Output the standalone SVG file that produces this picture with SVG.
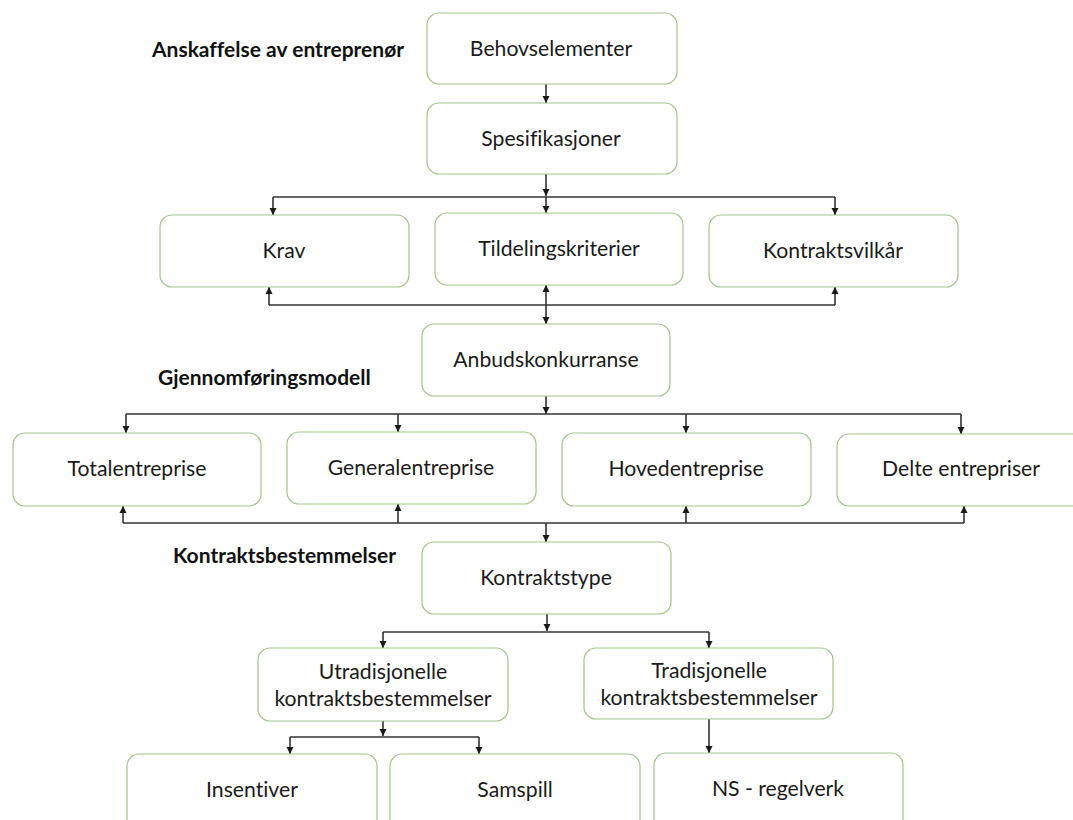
<svg xmlns="http://www.w3.org/2000/svg" width="1073" height="820" viewBox="0 0 1073 820">
  <defs>
    <marker id="arr" viewBox="0 0 10 10" refX="10" refY="5" markerWidth="7" markerHeight="8" markerUnits="userSpaceOnUse" orient="auto">
      <path d="M0,0 L10,5 L0,10 z" fill="#1a1a1a"/>
    </marker>
    <style>
      .box { fill: #ffffff; stroke: #a4c48a; stroke-width: 1.2; }
      .lbl { font-family: Lato, "Liberation Sans", sans-serif; font-size: 21.2px; fill: #1a1a1a; text-anchor: middle; font-variant-ligatures: none; }
      .hdr { font-family: Lato, "Liberation Sans", sans-serif; font-size: 21px; font-weight: bold; fill: #111111; font-variant-ligatures: none; }
      .con { fill: none; stroke: #333333; stroke-width: 1.6; }
      .arw { fill: none; stroke: #333333; stroke-width: 1.6; marker-end: url(#arr); }
    </style>
  </defs>
  <rect width="1073" height="820" fill="#ffffff"/>

  <!-- section headings -->
  <g id="headings">
    <text class="hdr" x="152" y="57">Anskaffelse av entreprenør</text>
    <text class="hdr" x="158" y="385">Gjennomføringsmodell</text>
    <text class="hdr" x="173" y="563">Kontraktsbestemmelser</text>
  </g>

  <!-- connectors -->
  <g id="connectors">
    <path class="arw" d="M546,84 V103"/>
    <path class="arw" d="M546,174 V196"/>
    <path class="con" d="M273,197 H835"/>
    <path class="arw" d="M273,197 V215"/>
    <path class="arw" d="M546,197 V213"/>
    <path class="arw" d="M835,197 V215"/>

    <path class="con" d="M269,305 H835"/>
    <path class="arw" d="M269,305 V287"/>
    <path class="arw" d="M546,305 V285"/>
    <path class="arw" d="M835,305 V287"/>
    <path class="arw" d="M546,305 V324"/>

    <path class="arw" d="M546,396 V414"/>
    <path class="con" d="M126,414 H961"/>
    <path class="arw" d="M126,414 V433"/>
    <path class="arw" d="M398,414 V432"/>
    <path class="arw" d="M686,414 V433"/>
    <path class="arw" d="M961,414 V434"/>

    <path class="con" d="M123,523 H964"/>
    <path class="arw" d="M123,523 V506"/>
    <path class="arw" d="M398,523 V504"/>
    <path class="arw" d="M686,523 V506"/>
    <path class="arw" d="M964,523 V506"/>
    <path class="arw" d="M546,523 V542"/>

    <path class="arw" d="M547,614 V631"/>
    <path class="con" d="M383,632 H709"/>
    <path class="arw" d="M383,632 V648"/>
    <path class="arw" d="M709,632 V648"/>

    <path class="arw" d="M383,721 V736"/>
    <path class="con" d="M290,737 H479"/>
    <path class="arw" d="M290,737 V754"/>
    <path class="arw" d="M479,737 V754"/>

    <path class="arw" d="M709,719 V753"/>
  </g>

  <!-- nodes -->
  <g id="n-behov">
    <rect class="box" x="427" y="13" width="250" height="71" rx="12"/>
    <text class="lbl" x="551" y="56">Behovselementer</text>
  </g>
  <g id="n-spes">
    <rect class="box" x="427" y="103" width="250" height="71" rx="12"/>
    <text class="lbl" x="551" y="146">Spesifikasjoner</text>
  </g>
  <g id="n-krav">
    <rect class="box" x="160" y="215" width="249" height="72" rx="12"/>
    <text class="lbl" x="284" y="258">Krav</text>
  </g>
  <g id="n-tildeling">
    <rect class="box" x="435" y="213" width="248" height="72" rx="12"/>
    <text class="lbl" x="559" y="256">Tildelingskriterier</text>
  </g>
  <g id="n-vilkar">
    <rect class="box" x="709" y="215" width="249" height="72" rx="12"/>
    <text class="lbl" x="833" y="258">Kontraktsvilkår</text>
  </g>
  <g id="n-anbud">
    <rect class="box" x="422" y="324" width="248" height="72" rx="12"/>
    <text class="lbl" x="546" y="367">Anbudskonkurranse</text>
  </g>
  <g id="n-total">
    <rect class="box" x="13" y="433" width="248" height="73" rx="12"/>
    <text class="lbl" x="137" y="476">Totalentreprise</text>
  </g>
  <g id="n-general">
    <rect class="box" x="287" y="432" width="249" height="72" rx="12"/>
    <text class="lbl" x="411" y="475">Generalentreprise</text>
  </g>
  <g id="n-hoved">
    <rect class="box" x="562" y="433" width="249" height="73" rx="12"/>
    <text class="lbl" x="686" y="476">Hovedentreprise</text>
  </g>
  <g id="n-delte">
    <rect class="box" x="837" y="434" width="249" height="72" rx="12"/>
    <text class="lbl" x="961" y="476">Delte entrepriser</text>
  </g>
  <g id="n-kontraktstype">
    <rect class="box" x="422" y="542" width="249" height="72" rx="12"/>
    <text class="lbl" x="546" y="585">Kontraktstype</text>
  </g>
  <g id="n-utrad">
    <rect class="box" x="258" y="648" width="250" height="73" rx="12"/>
    <text class="lbl" x="383" y="679">Utradisjonelle</text>
    <text class="lbl" x="383" y="706">kontraktsbestemmelser</text>
  </g>
  <g id="n-trad">
    <rect class="box" x="584" y="648" width="249" height="71" rx="12"/>
    <text class="lbl" x="709" y="678">Tradisjonelle</text>
    <text class="lbl" x="709" y="705">kontraktsbestemmelser</text>
  </g>
  <g id="n-insentiver">
    <rect class="box" x="127" y="754" width="250" height="90" rx="12"/>
    <text class="lbl" x="252" y="797">Insentiver</text>
  </g>
  <g id="n-samspill">
    <rect class="box" x="390" y="754" width="250" height="90" rx="12"/>
    <text class="lbl" x="515" y="797">Samspill</text>
  </g>
  <g id="n-ns">
    <rect class="box" x="654" y="753" width="249" height="90" rx="12"/>
    <text class="lbl" x="778" y="796">NS - regelverk</text>
  </g>
</svg>
